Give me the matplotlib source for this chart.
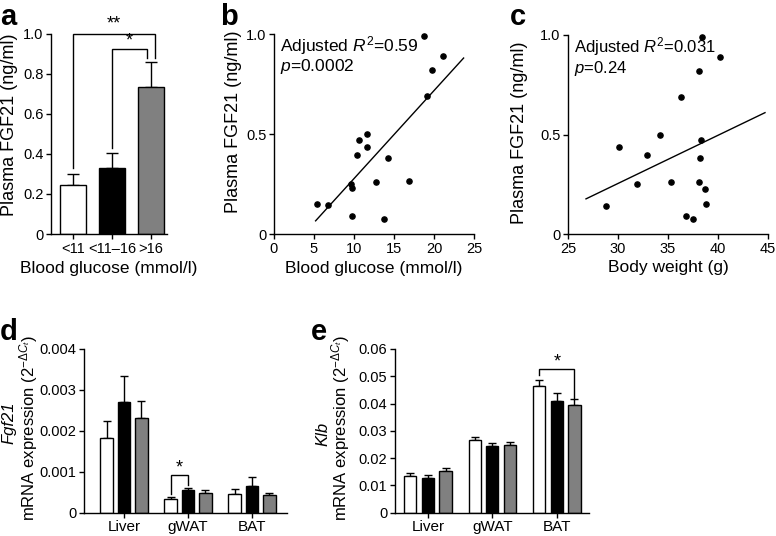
import numpy as np
import matplotlib
matplotlib.use("Agg")
from matplotlib import pyplot as plt

plt.rcParams['font.family'] = ['Liberation Sans', 'DejaVu Sans']
plt.rcParams['mathtext.fontset'] = 'custom'
plt.rcParams['mathtext.rm'] = 'Liberation Sans'
plt.rcParams['mathtext.it'] = 'Liberation Sans:italic'
plt.rcParams['axes.linewidth'] = 1.0
plt.rcParams['xtick.major.width'] = 1.0
plt.rcParams['ytick.major.width'] = 1.0
plt.rcParams['xtick.major.size'] = 3.5
plt.rcParams['ytick.major.size'] = 3.5
plt.rcParams['xtick.labelsize'] = 10.5
plt.rcParams['ytick.labelsize'] = 10.5

# panel a - plasma FGF21 by glucose group
glucose_groups = ['<11', '<11\u201316', '>16']
fgf21_mean = [0.246, 0.331, 0.734]
fgf21_sem = [0.052, 0.073, 0.126]

# panels b, c - individual mice
fgf21 = [0.99, 0.89, 0.82, 0.69, 0.50, 0.47, 0.435, 0.395, 0.38,
         0.263, 0.262, 0.25, 0.228, 0.15, 0.143, 0.088, 0.075]
glucose = [18.8, 21.1, 19.7, 19.1, 11.6, 10.6, 11.6, 10.4, 14.3,
           16.9, 12.8, 9.6, 9.8, 5.4, 6.8, 9.7, 13.7]
weight = [38.4, 40.2, 38.1, 36.3, 34.2, 38.3, 30.1, 32.9, 38.2,
          38.1, 35.3, 31.9, 38.7, 38.8, 28.8, 36.8, 37.5]
# regression lines as drawn in the figure (slope, intercept) and x span
fit_b = (0.044, -0.163)
fit_c = (0.0242, -0.472)
fit_range_b = [5.2, 23.7]
fit_range_c = [26.8, 44.7]

# panels d, e - tissue expression
tissues = ['Liver', 'gWAT', 'BAT']
fgf21_expr = [[0.00182, 0.00033, 0.00046],
              [0.00271, 0.00054, 0.00066],
              [0.00230, 0.00047, 0.00042]]
fgf21_expr_sem = [[0.00042, 0.00005, 0.00012],
                  [0.00064, 0.00005, 0.00021],
                  [0.00043, 0.00008, 0.00005]]
klb_expr = [[0.0135, 0.0267, 0.0466],
            [0.0128, 0.0244, 0.0410],
            [0.0152, 0.0249, 0.0395]]
klb_expr_sem = [[0.0012, 0.0012, 0.0022],
                [0.0012, 0.0012, 0.0030],
                [0.0013, 0.0011, 0.0020]]

colors = ['white', 'black', '#808080']

W, H = 776, 536
fig = plt.figure(figsize=(W / 100, H / 100), dpi=100)

YLAB = 13
XLAB = 12.5


def add_axes(left, top, right, bottom):
    return fig.add_axes([left / W, 1 - bottom / H, (right - left) / W, (bottom - top) / H])


def style(ax):
    ax.spines['top'].set_visible(False)
    ax.spines['right'].set_visible(False)
    ax.tick_params(direction='out', pad=2)


def labels(ax, xlabel, ylabel, ypos, size=YLAB, xpos=-0.17):
    if xlabel:
        ax.set_xlabel(xlabel, fontsize=XLAB)
        ax.xaxis.set_label_coords(0.5, xpos)
        ax.xaxis.label.set_verticalalignment('center')
    ax.set_ylabel(ylabel, fontsize=size)
    ax.yaxis.set_label_coords(*ypos)
    ax.yaxis.label.set_verticalalignment('center')


def bracket(ax, x1, x2, y1, y2, top, label, dy):
    ax.plot([x1, x1, x2, x2], [y1, top, top, y2], color='black', lw=1.0,
            clip_on=False, solid_joinstyle='miter')
    ax.text((x1 + x2) / 2, top + dy, label, ha='center', va='center',
            fontsize=13, clip_on=False)


# ---- a ----
ax = add_axes(51, 33.5, 167, 234)
style(ax)
x = np.arange(3)
ax.bar(x, fgf21_mean, width=0.67, color=colors, edgecolor='black', linewidth=1.0, zorder=2)
ax.errorbar(x, fgf21_mean, yerr=[np.zeros(3), fgf21_sem], fmt='none', ecolor='black',
            elinewidth=1.0, capsize=4.5, capthick=1.0, zorder=1)
ax.set_xlim(-0.56, 2.41)
ax.set_ylim(0, 1.0)
ax.set_yticks([0, 0.2, 0.4, 0.6, 0.8, 1.0])
ax.set_yticklabels(['0', '0.2', '0.4', '0.6', '0.8', '1.0'])
ax.set_xticks(x)
ax.set_xticklabels(glucose_groups)
labels(ax, 'Blood glucose (mmol/l)', 'Plasma FGF21 (ng/ml)', (-0.362, 0.545))
bracket(ax, 0, 2.1, 0.33, 0.88, 1.0, '**', 0.045)
bracket(ax, 1.0, 1.89, 0.43, 0.88, 0.923, '*', 0.04)

# ---- b ----
ax = add_axes(274, 34, 474, 234)
style(ax)
ax.scatter(glucose, fgf21, s=14, color='black', zorder=3, clip_on=False)
xs = np.array(fit_range_b)
ax.plot(xs, fit_b[0] * xs + fit_b[1], color='black', lw=1.0)
ax.set_xlim(0, 25)
ax.set_ylim(0, 1.0)
ax.set_xticks([0, 5, 10, 15, 20, 25])
ax.set_yticks([0, 0.5, 1.0])
ax.set_yticklabels(['0', '0.5', '1.0'])
labels(ax, 'Blood glucose (mmol/l)', 'Plasma FGF21 (ng/ml)', (-0.2, 0.56))
ax.text(0.03, 1.0, 'Adjusted $R^2$=0.59\n$p$=0.0002', transform=ax.transAxes,
        ha='left', va='top', fontsize=12.5, linespacing=1.0)

# ---- c ----
ax = add_axes(568, 35, 768, 234)
style(ax)
ax.scatter(weight, fgf21, s=14, color='black', zorder=3, clip_on=False)
xs = np.array(fit_range_c)
ax.plot(xs, fit_c[0] * xs + fit_c[1], color='black', lw=1.0)
ax.set_xlim(25, 45)
ax.set_ylim(0, 1.0)
ax.set_xticks([25, 30, 35, 40, 45])
ax.set_yticks([0, 0.5, 1.0])
ax.set_yticklabels(['0', '0.5', '1.0'])
labels(ax, 'Body weight (g)', 'Plasma FGF21 (ng/ml)', (-0.24, 0.51))
ax.text(0.03, 1.0, 'Adjusted $R^2$=0.031\n$p$=0.24', transform=ax.transAxes,
        ha='left', va='top', fontsize=12, linespacing=1.05)


# ---- d, e ----
def grouped(ax, vals, sems, offset, width, capsize):
    g = np.arange(len(tissues))
    for i in range(3):
        ax.bar(g + (i - 1) * offset, vals[i], width=width, color=colors[i],
               edgecolor='black', linewidth=1.0, zorder=2)
        ax.errorbar(g + (i - 1) * offset, vals[i], yerr=[np.zeros(3), sems[i]], fmt='none',
                    ecolor='black', elinewidth=1.0, capsize=capsize, capthick=1.0, zorder=1)
    ax.set_xticks(g)
    ax.set_xticklabels(tissues)


ax = add_axes(84, 349, 287, 512.5)
style(ax)
grouped(ax, fgf21_expr, fgf21_expr_sem, 0.27, 0.195, 2.6)
ax.set_xlim(-0.625, 2.547)
ax.set_ylim(0, 0.004)
ax.set_yticks([0, 0.001, 0.002, 0.003, 0.004])
ax.set_yticklabels(['0', '0.001', '0.002', '0.003', '0.004'])
ax.tick_params(axis='x', labelsize=11)
labels(ax, None, 'mRNA expression (2$^{-\\Delta C_t}$)', (-0.275, 0.52), size=12)
ax.text(-0.37, 0.55, 'Fgf21', style='italic', rotation=90, fontsize=12,
        ha='center', va='center', transform=ax.transAxes)
bracket(ax, 1 - 0.27, 1.0, 0.00046, 0.00068, 0.00091, '*', 0.00017)

ax = add_axes(395, 349, 589, 512.7)
style(ax)
grouped(ax, klb_expr, klb_expr_sem, 0.274, 0.19, 2.6)
ax.set_xlim(-0.51, 2.50)
ax.set_ylim(0, 0.06)
ax.set_yticks([0, 0.01, 0.02, 0.03, 0.04, 0.05, 0.06])
ax.set_yticklabels(['0', '0.01', '0.02', '0.03', '0.04', '0.05', '0.06'])
ax.tick_params(axis='x', labelsize=11)
labels(ax, None, 'mRNA expression (2$^{-\\Delta C_t}$)', (-0.28, 0.52), size=12)
ax.text(-0.372, 0.48, 'Klb', style='italic', rotation=90, fontsize=12,
        ha='center', va='center', transform=ax.transAxes)
bracket(ax, 2 - 0.274, 2 + 0.274, 0.0506, 0.0416, 0.0527, '*', 0.0026)

# panel letters
for lab, px, py in [('a', 0, 3), ('b', 220, 3), ('c', 510, 3), ('d', 0, 318), ('e', 311, 318)]:
    fig.text(px / W, 1 - py / H, lab, fontsize=21, fontweight='bold', ha='left', va='top')

fig.savefig('out.png', dpi=100)
